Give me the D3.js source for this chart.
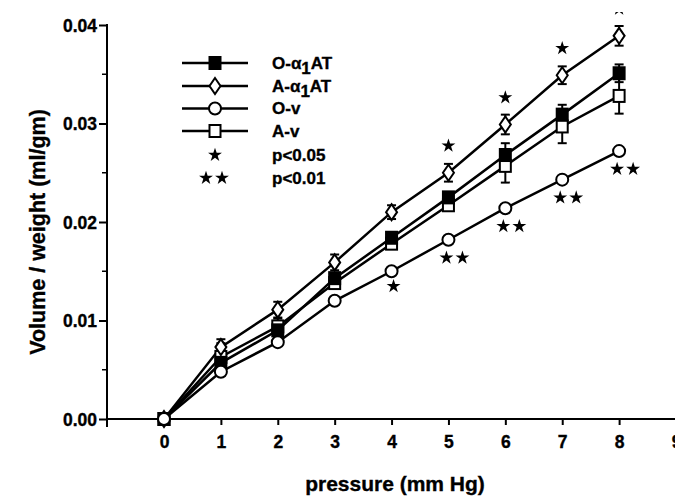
<!DOCTYPE html>
<html><head><meta charset="utf-8">
<script src="https://cdn.jsdelivr.net/npm/d3@7"></script>
<style>
body{margin:0;background:#fff}
text{font-family:"Liberation Sans",Arial,Helvetica,sans-serif;font-weight:bold;fill:#000;stroke:#000;stroke-width:0.35px}
</style></head>
<body><svg id="c" width="675" height="499"></svg>
<script>
// ---- data ----
const pressure = [0,1,2,3,4,5,6,7,8];
const xTicks = [0,1,2,3,4,5,6,7,8,9];
const yTicks = [0,0.01,0.02,0.03,0.04];
const yMinorTicks = [0.005,0.015,0.025,0.035];
const seriesNames = ["O-α1AT","A-α1AT","O-v","A-v"];
const O_a1AT = [0,0.0057,0.0090,0.0143,0.0184,0.0225,0.0268,0.0309,0.0351];
const O_a1AT_err = [0,0.0008,0.0006,0.0005,0.0005,0.0005,0.0012,0.0010,0.0009];
const A_a1AT = [0,0.0073,0.0111,0.0159,0.0210,0.0250,0.0299,0.0349,0.0389];
const A_a1AT_err = [0,0.0008,0.0008,0.0008,0.0007,0.0009,0.0010,0.0009,0.0010];
const O_v = [0,0.0048,0.0078,0.0120,0.0150,0.0182,0.0214,0.0243,0.0272];
const O_v_err = [0,0,0,0,0,0,0,0,0];
const A_v = [0,0.0063,0.0094,0.0138,0.0178,0.0217,0.0257,0.0297,0.0328];
const A_v_err = [0,0.0014,0.0008,0.0005,0.0005,0.0005,0.0017,0.0017,0.0018];
const sigAbove = [5,6,7,8];     // p<0.05 for A-α1AT
const sigBelow1 = [4];          // p<0.05 for O-v
const sigBelow2 = [5,6,7,8];    // p<0.01 for O-v

// ---- layout ----
const svg = d3.select("#c");
const x = d3.scaleLinear().domain([0,9]).range([164,676]);
const y = d3.scaleLinear().domain([0,0.04]).range([419,25]);
const axX = 107;

const series = [
  {name:seriesNames[0], v:O_a1AT, e:O_a1AT_err, shape:"sq", fill:"#000"},
  {name:seriesNames[1], v:A_a1AT, e:A_a1AT_err, shape:"dia", fill:"#fff"},
  {name:seriesNames[2], v:O_v, e:O_v_err, shape:"circ", fill:"#fff"},
  {name:seriesNames[3], v:A_v, e:A_v_err, shape:"sq", fill:"#fff"}
];

function marker(g, shape, fill){
  if(shape==="circ") return g.append("circle").attr("r",6).attr("fill",fill).attr("stroke","#000").attr("stroke-width",2);
  if(shape==="sq") return g.append("rect").attr("x",-5.5).attr("y",-6).attr("width",11).attr("height",12).attr("fill",fill).attr("stroke","#000").attr("stroke-width",2);
  if(shape==="dia") return g.append("path").attr("d","M0,-8L5.5,0L0,8L-5.5,0Z").attr("fill",fill).attr("stroke","#000").attr("stroke-width",2);
}

// axes
const yAxis = d3.axisLeft(y).tickValues(yTicks).tickFormat(d3.format(".2f")).tickSize(8).tickSizeOuter(0).tickPadding(2);
const gy = svg.append("g").attr("transform",`translate(${axX},0)`).call(yAxis);
gy.select(".domain").remove();
gy.selectAll(".tick line").attr("stroke","#000").attr("stroke-width",2);
gy.selectAll(".tick text").style("font-size","17.5px").attr("dy","0.35em");
svg.append("g").attr("transform",`translate(${axX},0)`).selectAll("line").data(yMinorTicks).join("line")
  .attr("x1",-5).attr("x2",0).attr("y1",d=>y(d)).attr("y2",d=>y(d)).attr("stroke","#000").attr("stroke-width",1.5);
svg.append("line").attr("x1",axX).attr("x2",axX).attr("y1",y(0.04)-1).attr("y2",427).attr("stroke","#000").attr("stroke-width",2);

const xAxis = d3.axisBottom(x).tickValues(xTicks).tickFormat(d3.format("d")).tickSize(6).tickSizeOuter(0).tickPadding(11);
const gx = svg.append("g").attr("transform",`translate(0,${y(0)})`).call(xAxis);
gx.select(".domain").remove();
gx.selectAll(".tick line").attr("stroke","#000").attr("stroke-width",2).filter(d=>d===0).remove();
gx.selectAll(".tick text").style("font-size","17.5px");
svg.append("line").attr("x1",axX-1).attr("x2",675).attr("y1",y(0)).attr("y2",y(0)).attr("stroke","#000").attr("stroke-width",2);

// axis titles
svg.append("text").attr("transform","translate(37,232) rotate(-90)").attr("text-anchor","middle").attr("dy","0.35em").style("font-size","21.5px").text("Volume / weight (ml/gm)");
svg.append("text").attr("x",395).attr("y",484).attr("text-anchor","middle").attr("dy","0.35em").style("font-size","21px").text("pressure (mm Hg)");

// lines
const line = d3.line().x((d,i)=>x(pressure[i])).y(d=>y(d));
series.forEach(s=>{
  svg.append("path").attr("d",line(s.v)).attr("fill","none").attr("stroke","#000").attr("stroke-width",2.5);
});
// error bars
series.forEach(s=>{
  const g = svg.append("g");
  s.v.forEach((v,i)=>{
    if(!s.e[i]) return;
    const cx = x(pressure[i]);
    g.append("line").attr("x1",cx).attr("x2",cx).attr("y1",y(v+s.e[i])).attr("y2",y(v-s.e[i])).attr("stroke","#000").attr("stroke-width",2);
    [v+s.e[i], v-s.e[i]].forEach(t=>g.append("line").attr("x1",cx-4.5).attr("x2",cx+4.5).attr("y1",y(t)).attr("y2",y(t)).attr("stroke","#000").attr("stroke-width",2));
  });
});
// markers (circles drawn last so the origin shows an open circle)
[3,0,1,2].forEach(k=>{
  const s = series[k];
  s.v.forEach((v,i)=>{
    const g = svg.append("g").attr("transform",`translate(${x(pressure[i])},${y(v)})`);
    marker(g, s.shape, s.fill);
  });
});

// significance stars
const star = d3.symbol().type(d3.symbolStar).size(60);
svg.append("defs").append("clipPath").attr("id","clipTop").append("rect").attr("x",0).attr("y",12).attr("width",675).attr("height",487);
const starG = svg.append("g").attr("clip-path","url(#clipTop)");
sigAbove.forEach(p=>{
  const i = pressure.indexOf(p);
  starG.append("path").attr("d",star()).attr("transform",`translate(${x(p)},${y(A_a1AT[i])-27})`);
});
sigBelow1.forEach(p=>{
  const i = pressure.indexOf(p);
  starG.append("path").attr("d",star()).attr("transform",`translate(${x(p)+2},${y(O_v[i])+15})`);
});
sigBelow2.forEach(p=>{
  const i = pressure.indexOf(p);
  [-1,1].forEach(k=>starG.append("path").attr("d",star()).attr("transform",`translate(${x(p)+6+k*8},${y(O_v[i])+18})`));
});

// legend
const legY = [63,86,108.5,131];
series.forEach((s,k)=>{
  const g = svg.append("g").attr("transform",`translate(0,${legY[k]})`);
  g.append("line").attr("x1",182).attr("x2",248).attr("stroke","#000").attr("stroke-width",2.5);
  marker(g.append("g").attr("transform","translate(215,0)"), s.shape, s.fill);
  const t = g.append("text").attr("x",272).attr("dy","0.35em").style("font-size","17px");
  if(s.name.includes("α1")){
    const parts = s.name.split("α1");
    t.append("tspan").text(parts[0]+"α");
    t.append("tspan").attr("dy","0.3em").text("1");
    t.append("tspan").attr("dy","-0.3em").text(parts[1]);
  } else t.text(s.name);
});
const l5 = svg.append("g").attr("transform","translate(0,155)");
l5.append("path").attr("d",star()).attr("transform","translate(215,0)");
l5.append("text").attr("x",272).attr("dy","0.35em").style("font-size","17px").text("p<0.05");
const l6 = svg.append("g").attr("transform","translate(0,178)");
[-1,1].forEach(k=>l6.append("path").attr("d",star()).attr("transform",`translate(${214+k*8},0)`));
l6.append("text").attr("x",272).attr("dy","0.35em").style("font-size","17px").text("p<0.01");
</script></body></html>
